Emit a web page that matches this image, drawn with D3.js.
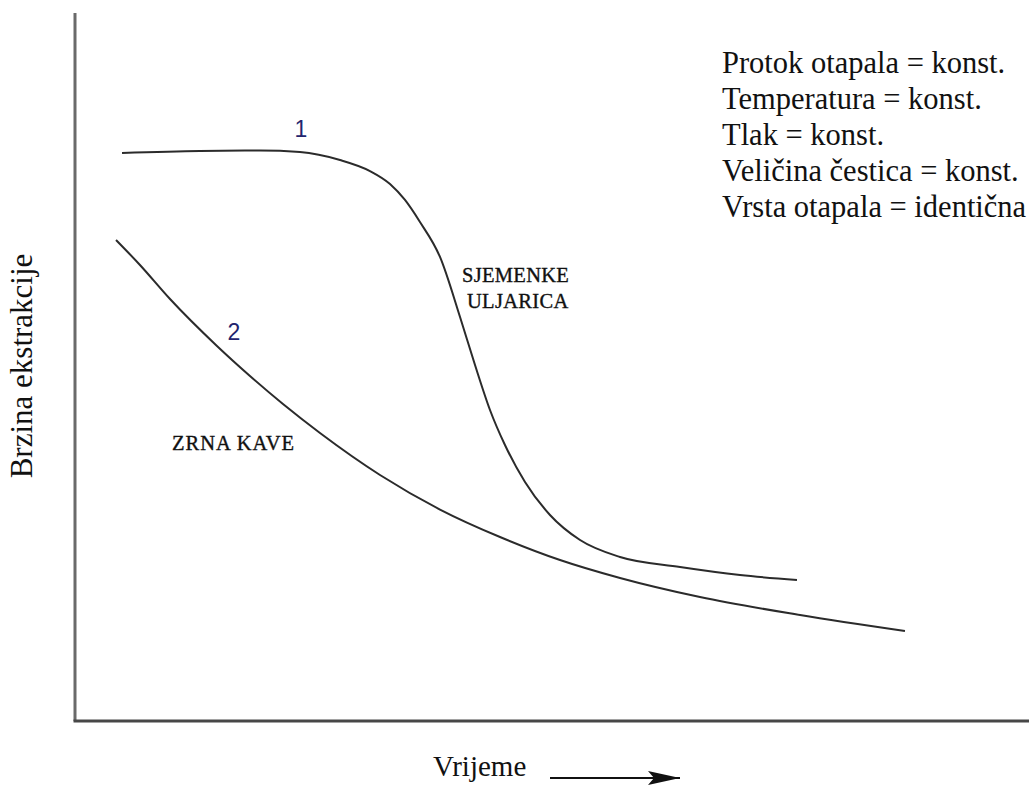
<!DOCTYPE html>
<html>
<head>
<meta charset="utf-8">
<script src="https://cdn.jsdelivr.net/npm/d3@7"></script>
<style>
  body { margin: 0; background: #fff; }
  svg { display: block; }
  .serif { font-family: "Liberation Serif", "DejaVu Serif", serif; fill: #111; }
  .name { stroke: #111; stroke-width: 0.35px; }
</style>
</head>
<body>
<div id="chart"></div>
<script>
/** curve 1: oilseeds (time, extraction rate) */
let seedTime = [4.93, 13.10, 19.39, 23.58, 27.78, 30.92, 33.02, 34.59, 36.16, 38.26, 40.36, 41.93, 43.50, 45.07, 47.17, 49.79, 52.94, 57.13, 63.42, 69.71, 75.68];
let seedRate = [80.23, 80.51, 80.58, 80.37, 79.24, 77.68, 75.85, 73.59, 70.48, 65.54, 57.06, 50.28, 43.93, 38.98, 33.76, 29.10, 25.56, 23.16, 21.75, 20.62, 19.92];

/** curve 2: coffee beans */
let coffeeTime = [4.30, 6.81, 9.96, 14.88, 18.34, 21.80, 25.68, 31.97, 38.26, 44.55, 50.84, 57.13, 65.51, 76.00, 87.00];
let coffeeRate = [67.94, 64.41, 59.60, 52.97, 48.73, 44.77, 40.68, 34.75, 29.87, 25.99, 22.74, 20.20, 17.51, 14.97, 12.71];

/** text */
let conditions = [
  'Protok otapala = konst.',
  'Temperatura = konst.',
  'Tlak = konst.',
  'Veličina čestica = konst.',
  'Vrsta otapala = identična'
];
let xTitle = 'Vrijeme';
let yTitle = 'Brzina ekstrakcije';

let width = 1029;
let height = 785;

let svg = d3.select('#chart')
  .append('svg')
  .attr('width', width)
  .attr('height', height);

let x = d3.scaleLinear().domain([0, 100]).range([75, 1029]);
let y = d3.scaleLinear().domain([0, 100]).range([721, 13]);

// axes (no ticks, just the two lines)
svg.append('line')
  .attr('x1', x(0)).attr('x2', x(0))
  .attr('y1', y(0)).attr('y2', y(100))
  .attr('stroke', '#6a6a6a')
  .attr('stroke-width', 3);
svg.append('line')
  .attr('x1', x(0) - 1.5).attr('x2', x(100))
  .attr('y1', y(0)).attr('y2', y(0))
  .attr('stroke', '#474747')
  .attr('stroke-width', 3);

let line = d3.line()
  .x(d => x(d[0]))
  .y(d => y(d[1]))
  .curve(d3.curveMonotoneX);

svg.append('path')
  .datum(d3.zip(seedTime, seedRate))
  .attr('d', line)
  .attr('fill', 'none')
  .attr('stroke', '#2b2b2b')
  .attr('stroke-width', 2);

svg.append('path')
  .datum(d3.zip(coffeeTime, coffeeRate))
  .attr('d', line)
  .attr('fill', 'none')
  .attr('stroke', '#2b2b2b')
  .attr('stroke-width', 2);

// curve numbers
svg.append('text')
  .attr('x', 301).attr('y', 137)
  .attr('text-anchor', 'middle')
  .style('font-family', 'Arial, "Liberation Sans", sans-serif')
  .style('font-size', '23px')
  .style('fill', '#23246e')
  .text('1');
svg.append('text')
  .attr('x', 234).attr('y', 340)
  .attr('text-anchor', 'middle')
  .style('font-family', 'Arial, "Liberation Sans", sans-serif')
  .style('font-size', '23px')
  .style('fill', '#23246e')
  .text('2');

// curve names
svg.append('text')
  .attr('class', 'serif name')
  .attr('x', 172).attr('y', 450)
  .style('font-size', '20.5px')
  .style('letter-spacing', '1px')
  .text('ZRNA KAVE');
svg.append('text')
  .attr('class', 'serif name')
  .attr('x', 462).attr('y', 282)
  .style('font-size', '20.5px')
  .style('letter-spacing', '0.3px')
  .text('SJEMENKE');
svg.append('text')
  .attr('class', 'serif name')
  .attr('x', 467).attr('y', 308)
  .style('font-size', '20.5px')
  .style('letter-spacing', '0.3px')
  .text('ULJARICA');

// conditions block
svg.append('g')
  .selectAll('text')
  .data(conditions)
  .enter()
  .append('text')
  .attr('class', 'serif')
  .attr('x', 722)
  .attr('y', (d, i) => 73 + i * 36)
  .style('font-size', '30.5px')
  .text(d => d);

// axis titles
svg.append('text')
  .attr('class', 'serif')
  .attr('transform', 'translate(32,366) rotate(-90)')
  .attr('text-anchor', 'middle')
  .style('font-size', '31px')
  .text(yTitle);

svg.append('text')
  .attr('class', 'serif')
  .attr('x', 433).attr('y', 776)
  .style('font-size', '29px')
  .text(xTitle);

svg.append('defs').append('marker')
  .attr('id', 'arrow')
  .attr('viewBox', '0 0 32 14')
  .attr('refX', 32).attr('refY', 7)
  .attr('markerWidth', 32).attr('markerHeight', 14)
  .attr('markerUnits', 'userSpaceOnUse')
  .attr('orient', 'auto')
  .append('path')
  .attr('d', 'M0,0 L32,7 L0,14 L6,7 Z')
  .attr('fill', '#111');

svg.append('line')
  .attr('x1', 550).attr('x2', 680)
  .attr('y1', 778).attr('y2', 778)
  .attr('stroke', '#111')
  .attr('stroke-width', 2)
  .attr('marker-end', 'url(#arrow)');
</script>
</body>
</html>
